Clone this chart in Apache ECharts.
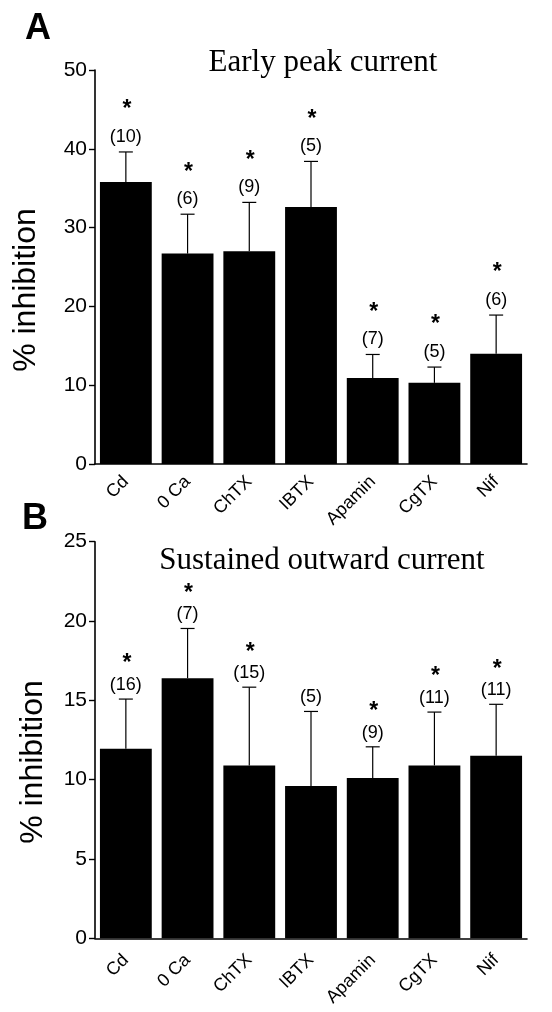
<!DOCTYPE html>
<html>
<head>
<meta charset="utf-8">
<script src="https://cdn.jsdelivr.net/npm/echarts@6/dist/echarts.min.js"></script>
<style>
html,body{margin:0;padding:0;background:#fff;}
#chart{width:552px;height:1012px;}
</style>
</head>
<body>
<div id="chart"></div>
<script>
const categories = ['Cd', '0 Ca', 'ChTX', 'IBTX', 'Apamin', 'CgTX', 'Nif'];
// Panel A: Early peak current
const meanA = [35.8, 26.7, 27.0, 32.6, 10.9, 10.3, 14.0];
const semA  = [3.8, 5.0, 6.2, 5.8, 3.0, 2.0, 4.9];
const nA    = [10, 6, 9, 5, 7, 5, 6];
const sigA  = [true, true, true, true, true, true, true];
const ticksA = [0, 10, 20, 30, 40, 50];
// Panel B: Sustained outward current
const meanB = [11.95, 16.4, 10.9, 9.6, 10.1, 10.9, 11.5];
const semB  = [3.13, 3.13, 4.93, 4.7, 1.97, 3.36, 3.25];
const nB    = [16, 7, 15, 5, 9, 11, 11];
const sigB  = [true, true, true, false, true, true, true];
const ticksB = [0, 5, 10, 15, 20, 25];

const SANS = 'Liberation Sans, Arial, sans-serif';
const SERIF = 'Liberation Serif, Times New Roman, serif';

function makeRender(mean, sem, n, sig, gapN, gapStar) {
  return function (params, api) {
    const i = api.value(0);
    const base = api.coord([i, mean[i]]);
    const top = api.coord([i, mean[i] + sem[i]]);
    const x = top[0];
    const children = [
      {type: 'line', shape: {x1: x, y1: base[1], x2: x, y2: top[1]}, style: {stroke: '#000', lineWidth: 1.2}},
      {type: 'line', shape: {x1: x - 7, y1: top[1], x2: x + 7, y2: top[1]}, style: {stroke: '#000', lineWidth: 1.2}},
      {type: 'text', x: x, y: top[1] - gapN, style: {text: '(' + n[i] + ')', align: 'center', verticalAlign: 'middle', font: '18px ' + SANS, fill: '#000'}}
    ];
    if (sig[i]) {
      children.push({type: 'text', x: x + 1, y: top[1] - gapN - gapStar, style: {text: '*', align: 'center', verticalAlign: 'middle', font: 'bold 23px ' + SANS, fill: '#000'}});
    }
    return {type: 'group', children: children};
  };
}

function yAxisCfg(gridIndex, ticks) {
  return {
    type: 'value', gridIndex: gridIndex,
    min: ticks[0], max: ticks[ticks.length - 1], interval: ticks[1] - ticks[0],
    axisLine: {show: true, lineStyle: {color: '#000', width: 1.6}},
    axisTick: {show: true, inside: false, length: 6, lineStyle: {color: '#000', width: 1.4}},
    splitLine: {show: false},
    axisLabel: {color: '#000', fontSize: 21, fontFamily: SANS, margin: 8}
  };
}
function xAxisCfg(gridIndex, margin) {
  return {
    type: 'category', gridIndex: gridIndex, data: categories,
    axisLine: {show: true, lineStyle: {color: '#000', width: 1.6}},
    axisTick: {show: false},
    axisLabel: {color: '#000', fontSize: 18, fontFamily: SANS, rotate: 45, interval: 0, margin: margin}
  };
}

const chart = echarts.init(document.getElementById('chart'), null, {renderer: 'canvas'});
chart.setOption({
  animation: false,
  backgroundColor: '#fff',
  grid: [
    {left: 95, top: 70, width: 432, height: 394},
    {left: 95, top: 541.7, width: 432, height: 396.6}
  ],
  xAxis: [xAxisCfg(0, 15), xAxisCfg(1, 19)],
  yAxis: [yAxisCfg(0, ticksA), yAxisCfg(1, ticksB)],
  series: [
    {type: 'bar', xAxisIndex: 0, yAxisIndex: 0, data: meanA, barCategoryGap: '16%', itemStyle: {color: '#000'}},
    {type: 'custom', xAxisIndex: 0, yAxisIndex: 0, renderItem: makeRender(meanA, semA, nA, sigA, 15, 27),
     data: categories.map((c, i) => [i, meanA[i] + semA[i]]), encode: {x: 0, y: 1}, z: 3},
    {type: 'bar', xAxisIndex: 1, yAxisIndex: 1, data: meanB, barCategoryGap: '16%', itemStyle: {color: '#000'}},
    {type: 'custom', xAxisIndex: 1, yAxisIndex: 1, renderItem: makeRender(meanB, semB, nB, sigB, 14, 21),
     data: categories.map((c, i) => [i, meanB[i] + semB[i]]), encode: {x: 0, y: 1}, z: 3}
  ],
  graphic: [
    {type: 'text', left: 25, top: 11, style: {text: 'A', font: 'bold 36px ' + SANS, fill: '#000'}},
    {type: 'text', left: 22, top: 501, style: {text: 'B', font: 'bold 36px ' + SANS, fill: '#000'}},
    {type: 'text', x: 323, y: 63, style: {text: 'Early peak current', font: '31px ' + SERIF, fill: '#000', align: 'center', verticalAlign: 'middle'}},
    {type: 'text', x: 322, y: 561, style: {text: 'Sustained outward current', font: '31px ' + SERIF, fill: '#000', align: 'center', verticalAlign: 'middle'}},
    {type: 'text', x: 26, y: 290, rotation: Math.PI / 2, style: {text: '% inhibition', font: '32px ' + SANS, fill: '#000', align: 'center', verticalAlign: 'middle'}},
    {type: 'text', x: 33, y: 762, rotation: Math.PI / 2, style: {text: '% inhibition', font: '32px ' + SANS, fill: '#000', align: 'center', verticalAlign: 'middle'}}
  ]
});
</script>
</body>
</html>
